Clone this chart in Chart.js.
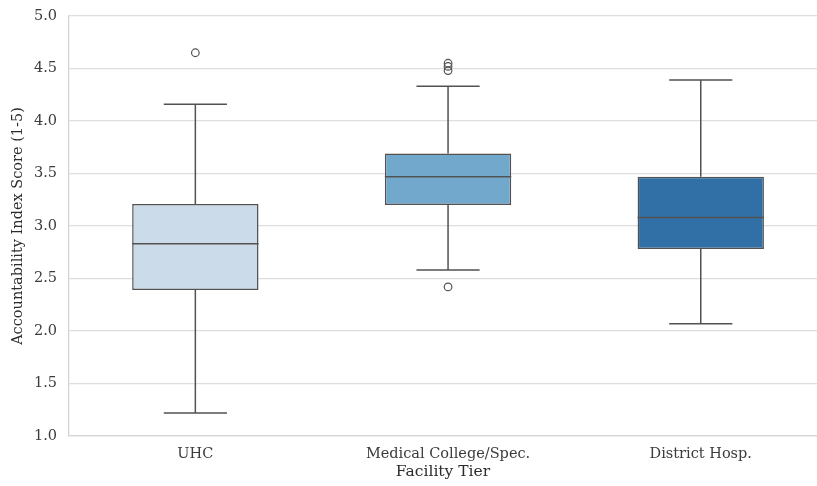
<!DOCTYPE html>
<html>
<head>
<meta charset="utf-8">
<script src="https://cdn.jsdelivr.net/npm/chart.js@4/dist/chart.umd.min.js"></script>
<style>
  html, body { margin: 0; padding: 0; background: #ffffff; }
  #wrap { width: 817px; height: 486px; }
</style>
</head>
<body>
<div id="wrap"><canvas id="c" width="817" height="486"></canvas></div>
<script>
// Accountability index score by facility tier (box plot summary)
const categories   = ['UHC', 'Medical College/Spec.', 'District Hosp.'];
const whiskerLow   = [1.22, 2.58, 2.07];
const q1           = [2.39, 3.20, 2.78];
const median       = [2.83, 3.47, 3.08];
const q3           = [3.21, 3.69, 3.47];
const whiskerHigh  = [4.16, 4.33, 4.39];
const outliers     = [[4.65], [4.55, 4.52, 4.48, 2.42], []];
const boxColors    = ['#cbdbea', '#73a8cd', '#3070a6'];
const yTicks       = [1.0, 1.5, 2.0, 2.5, 3.0, 3.5, 4.0, 4.5, 5.0];

const lineColor = '#525252';
const fontFamily = '"DejaVu Serif", "Liberation Serif", serif';

// Floating bars hold the interquartile boxes
const boxData = categories.map((c, i) => ({ x: i, y: [q1[i], q3[i]] }));
const outlierData = [];
outliers.forEach((arr, i) => arr.forEach(v => outlierData.push({ x: i, y: v })));

// Whiskers, caps and medians drawn from the same summary arrays
const boxExtras = {
  id: 'boxExtras',
  beforeDatasetsDraw(chart) {
    const { ctx, scales: { x, y } } = chart;
    const half = (x.getPixelForValue(0.25) - x.getPixelForValue(0)) / 2;
    ctx.save();
    ctx.strokeStyle = lineColor;
    ctx.lineWidth = 1.5;
    categories.forEach((c, i) => {
      const cx = x.getPixelForValue(i);
      ctx.beginPath();
      ctx.moveTo(cx, y.getPixelForValue(q3[i]));
      ctx.lineTo(cx, y.getPixelForValue(whiskerHigh[i]));
      ctx.moveTo(cx, y.getPixelForValue(q1[i]));
      ctx.lineTo(cx, y.getPixelForValue(whiskerLow[i]));
      ctx.moveTo(cx - half, y.getPixelForValue(whiskerHigh[i]));
      ctx.lineTo(cx + half, y.getPixelForValue(whiskerHigh[i]));
      ctx.moveTo(cx - half, y.getPixelForValue(whiskerLow[i]));
      ctx.lineTo(cx + half, y.getPixelForValue(whiskerLow[i]));
      ctx.stroke();
    });
    ctx.restore();
  },
  afterDatasetsDraw(chart) {
    const { ctx, scales: { x, y } } = chart;
    const halfBox = x.getPixelForValue(0.25) - x.getPixelForValue(0);
    ctx.save();
    ctx.strokeStyle = lineColor;
    ctx.lineWidth = 1.5;
    categories.forEach((c, i) => {
      const cx = x.getPixelForValue(i);
      const my = y.getPixelForValue(median[i]);
      ctx.beginPath();
      ctx.moveTo(cx - halfBox, my);
      ctx.lineTo(cx + halfBox, my);
      ctx.stroke();
    });
    ctx.restore();
  }
};

new Chart(document.getElementById('c'), {
  data: {
    datasets: [
      {
        type: 'bar',
        data: boxData,
        backgroundColor: boxColors,
        borderColor: lineColor,
        borderWidth: 1.5,
        borderSkipped: false,
        barPercentage: 0.5,
        categoryPercentage: 1.0,
        order: 2
      },
      {
        type: 'scatter',
        data: outlierData,
        pointStyle: 'circle',
        pointRadius: 3.8,
        pointBorderWidth: 1.2,
        pointBorderColor: lineColor,
        pointBackgroundColor: 'rgba(0,0,0,0)',
        order: 1
      }
    ]
  },
  plugins: [boxExtras],
  options: {
    responsive: false,
    animation: false,
    layout: { autoPadding: false, padding: { top: 16, right: 0, left: 0, bottom: 0 } },
    plugins: { legend: { display: false }, tooltip: { enabled: false } },
    scales: {
      x: {
        type: 'linear',
        offset: false,
        min: -0.5,
        max: 2.46,
        afterBuildTicks(scale) { scale.ticks = [0, 1, 2].map(v => ({ value: v })); },
        afterFit(scale) {
          scale.height = 50;
          scale.paddingLeft = 0;
          scale.paddingRight = 0;
        },
        grid: { display: false, drawTicks: false },
        border: { display: true, color: '#d4d4d4', width: 1.3 },
        ticks: {
          padding: 10,
          color: '#3c3c3c',
          font: { family: fontFamily, size: 14.5 },
          maxRotation: 0,
          autoSkip: false,
          callback: v => categories[v]
        },
        title: {
          display: true,
          text: 'Facility Tier',
          color: '#2c2c2c',
          font: { family: fontFamily, size: 15.5 },
          padding: { top: 0, bottom: 5 }
        }
      },
      y: {
        type: 'linear',
        min: 1,
        max: 5,
        afterBuildTicks(scale) { scale.ticks = yTicks.map(v => ({ value: v })); },
        afterFit(scale) {
          scale.width = 69;
          scale.paddingTop = 0;
          scale.paddingBottom = 0;
        },
        grid: { color: '#dedede', lineWidth: 1.2, drawTicks: false },
        border: { display: true, color: '#d4d4d4', width: 1.3 },
        ticks: {
          padding: 12,
          color: '#3c3c3c',
          font: { family: fontFamily, size: 14.5 },
          callback: v => v.toFixed(1)
        },
        title: {
          display: true,
          text: 'Accountability Index Score (1-5)',
          color: '#2c2c2c',
          font: { family: fontFamily, size: 14.5 },
          padding: { top: 10, bottom: 0 }
        }
      }
    }
  }
});
</script>
</body>
</html>
